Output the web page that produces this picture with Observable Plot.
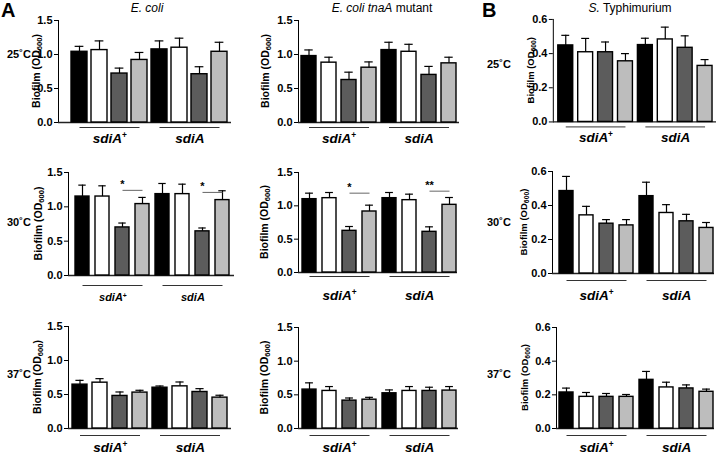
<!DOCTYPE html>
<html><head><meta charset="utf-8">
<script src="https://cdn.jsdelivr.net/npm/d3@7"></script>
<script src="https://cdn.jsdelivr.net/npm/@observablehq/plot@0.6"></script>
<style>
body{margin:0;background:#fff;}
#fig{position:relative;width:720px;height:457px;overflow:hidden;font-family:'Liberation Sans',Arial,sans-serif;background:#fff;}
.abs{position:absolute;white-space:nowrap;line-height:1;color:#000;}
.panel{position:absolute;}
</style></head><body><div id="fig"></div>
<script>
// ---------- data ----------
const groups = ["sdiA+", "sdiA"];
const conditions = ["c1", "c2", "c3", "c4"];
const temps = ["25˚C", "30˚C", "37˚C"];
const panelLetters = ["A", "B"];
const organismTitles = ["<i>E. coli</i>", "<i>E. coli tnaA</i> mutant", "<i>S.</i> Typhimurium"];
const ecoliTicks = [0, 0.5, 1.0, 1.5];
const styphTicks = [0, 0.2, 0.4, 0.6];

const ecoli25 = [1.04, 1.065, 0.72, 0.92, 1.075, 1.10, 0.71, 1.04];
const ecoli25Err = [0.08, 0.135, 0.08, 0.11, 0.125, 0.14, 0.11, 0.14];
const tnaA25 = [0.977, 0.88, 0.625, 0.806, 1.065, 1.04, 0.70, 0.87];
const tnaA25Err = [0.09, 0.08, 0.115, 0.085, 0.115, 0.11, 0.125, 0.09];
const styph25 = [0.448, 0.408, 0.408, 0.355, 0.45, 0.483, 0.434, 0.328];
const styph25Err = [0.059, 0.081, 0.06, 0.045, 0.04, 0.072, 0.07, 0.037];

const ecoli30 = [1.15, 1.15, 0.70, 1.04, 1.185, 1.185, 0.643, 1.098];
const ecoli30Err = [0.166, 0.156, 0.064, 0.097, 0.155, 0.145, 0.049, 0.136];
const tnaA30 = [1.10, 1.115, 0.625, 0.915, 1.115, 1.085, 0.61, 1.015];
const tnaA30Err = [0.09, 0.085, 0.065, 0.095, 0.085, 0.09, 0.075, 0.11];
const styph30 = [0.485, 0.342, 0.293, 0.283, 0.455, 0.356, 0.307, 0.268];
const styph30Err = [0.086, 0.053, 0.024, 0.034, 0.082, 0.049, 0.041, 0.032];

const ecoli37 = [0.645, 0.674, 0.479, 0.528, 0.60, 0.62, 0.537, 0.454];
const ecoli37Err = [0.063, 0.059, 0.058, 0.034, 0.025, 0.064, 0.049, 0.035];
const tnaA37 = [0.578, 0.558, 0.414, 0.428, 0.523, 0.558, 0.558, 0.563];
const tnaA37Err = [0.10, 0.065, 0.039, 0.035, 0.05, 0.065, 0.055, 0.06];
const styph37 = [0.214, 0.188, 0.188, 0.188, 0.289, 0.244, 0.238, 0.218];
const styph37Err = [0.026, 0.026, 0.02, 0.014, 0.05, 0.031, 0.021, 0.016];

// significance brackets: [fromBar, toBar, y, label]
const ecoli30Sig = [[2, 3, 1.24, "*"], [6, 7, 1.21, "*"]];
const tnaA30Sig = [[2, 3, 1.19, "*"], [6, 7, 1.22, "**"]];

// ---------- styles / layout ----------
const barFills = ["#000000", "#ffffff", "#5c5c5c", "#bdbdbd"];
const layouts = [
  {svgLeft: 20, axisX: 58, baseRight: 231, yTop: 20, yBot: 122, firstLeft: 68, lastRight: 230, bw: 16.5, lineY: 127, labelY: 138, labelSize: 13.5, yLabelX: 37, yLabelSize: 10.5},
  {svgLeft: 250, axisX: 298, baseRight: 459, yTop: 20, yBot: 122, firstLeft: 300, lastRight: 457, bw: 15, lineY: 127, labelY: 138, labelSize: 13.5, yLabelX: 266, yLabelSize: 10.5},
  {svgLeft: 515, axisX: 553, baseRight: 717, yTop: 19, yBot: 122, firstLeft: 555, lastRight: 716, bw: 16, lineY: 127, labelY: 138, labelSize: 13.5, yLabelX: 531, yLabelSize: 9.5},
  {svgLeft: 20, axisX: 68, baseRight: 234, yTop: 172, yBot: 275, firstLeft: 72, lastRight: 233, bw: 15, lineY: 285, labelY: 297, labelSize: 11, yLabelX: 39, yLabelSize: 10.5},
  {svgLeft: 250, axisX: 298, baseRight: 457, yTop: 172, yBot: 272, firstLeft: 301, lastRight: 456, bw: 14, lineY: 276, labelY: 295, labelSize: 13.5, yLabelX: 265, yLabelSize: 10.5},
  {svgLeft: 500, axisX: 552, baseRight: 714, yTop: 171, yBot: 273, firstLeft: 559, lastRight: 713, bw: 14, lineY: 280, labelY: 295, labelSize: 13.5, yLabelX: 524, yLabelSize: 9.5},
  {svgLeft: 20, axisX: 68, baseRight: 231, yTop: 326, yBot: 428, firstLeft: 70, lastRight: 230, bw: 15.5, lineY: 435, labelY: 447, labelSize: 13.5, yLabelX: 38, yLabelSize: 10.5},
  {svgLeft: 250, axisX: 298, baseRight: 458, yTop: 327, yBot: 428, firstLeft: 301, lastRight: 457, bw: 14, lineY: 435, labelY: 447, labelSize: 13.5, yLabelX: 265, yLabelSize: 10.5},
  {svgLeft: 500, axisX: 556, baseRight: 714, yTop: 327, yBot: 428, firstLeft: 559, lastRight: 713, bw: 14, lineY: 435, labelY: 447, labelSize: 13.5, yLabelX: 525, yLabelSize: 9.5}
];

const panels = [
  {vals: ecoli25, errs: ecoli25Err, max: 1.5, ticks: ecoliTicks, sig: []},
  {vals: tnaA25, errs: tnaA25Err, max: 1.5, ticks: ecoliTicks, sig: []},
  {vals: styph25, errs: styph25Err, max: 0.6, ticks: styphTicks, sig: []},
  {vals: ecoli30, errs: ecoli30Err, max: 1.5, ticks: ecoliTicks, sig: ecoli30Sig},
  {vals: tnaA30, errs: tnaA30Err, max: 1.5, ticks: ecoliTicks, sig: tnaA30Sig},
  {vals: styph30, errs: styph30Err, max: 0.6, ticks: styphTicks, sig: []},
  {vals: ecoli37, errs: ecoli37Err, max: 1.5, ticks: ecoliTicks, sig: []},
  {vals: tnaA37, errs: tnaA37Err, max: 1.5, ticks: ecoliTicks, sig: []},
  {vals: styph37, errs: styph37Err, max: 0.6, ticks: styphTicks, sig: []}
];

const fig = document.getElementById("fig");
const keys = groups.flatMap(g => conditions.map(c => g + "|" + c));

function makePanel(P, L) {
  const rows = keys.map((k, i) => ({key: k, cond: conditions[i % 4], v: P.vals[i], e: P.errs[i]}));
  const groupRows = groups.map((g, gi) => ({label: g, first: keys[gi * 4], last: keys[gi * 4 + 3], mid: keys[gi * 4 + 1]}));
  const sigRows = P.sig.map(([a, b, y, label]) => ({from: keys[a], to: keys[b], y, label}));
  const svgTop = L.yTop - 10;
  const svgBottom = L.labelY + 10;
  const height = svgBottom - svgTop;
  const width = L.baseRight + 4 - L.svgLeft;
  const pitch = (L.lastRight - L.bw - L.firstLeft) / 7;
  const gap = pitch - L.bw;
  const pi = gap / pitch;
  const chart = Plot.plot({
    width, height,
    marginLeft: L.axisX - L.svgLeft,
    marginRight: width - (L.baseRight - L.svgLeft),
    marginTop: L.yTop - svgTop,
    marginBottom: svgBottom - L.yBot,
    x: {type: "band", domain: keys, range: [L.firstLeft - gap / 2 - L.svgLeft, L.lastRight + gap / 2 - L.svgLeft], paddingInner: pi, paddingOuter: pi / 2, axis: null},
    y: {domain: [0, P.max], ticks: P.ticks, tickFormat: d3.format(".1f"), tickSize: 4, tickPadding: 2, line: true, label: null},
    color: {domain: conditions, range: barFills},
    style: {fontFamily: "'Liberation Sans', Arial, sans-serif", fontSize: "11px", fontWeight: "bold", background: "transparent", overflow: "visible", color: "#000"},
    marks: [
      Plot.ruleY([0], {stroke: "#222", strokeWidth: 1.3}),
      Plot.barY(rows, {x: "key", y: "v", fill: "cond", stroke: "#000", strokeWidth: 1.4}),
      Plot.ruleX(rows, {x: "key", y1: "v", y2: d => d.v + d.e, stroke: "#000", strokeWidth: 1.2}),
      Plot.tickY(rows, {x: "key", y: d => d.v + d.e, insetLeft: L.bw * 0.22, insetRight: L.bw * 0.22, stroke: "#000", strokeWidth: 1.2}),
      Plot.link(groupRows, {x1: "first", x2: "last", y1: () => 0, y2: () => 0, dy: L.lineY - L.yBot, stroke: "#333", strokeWidth: 1}),
      Plot.text(groupRows, {x: "mid", y: () => 0, dx: pitch / 2, dy: L.labelY - L.yBot, text: "label", fontStyle: "italic", fontSize: L.labelSize, fill: "#000"}),
      Plot.link(sigRows, {x1: "from", x2: "to", y1: "y", y2: "y", stroke: "#666", strokeWidth: 1}),
      Plot.text(sigRows, {x: "from", y: "y", text: "label", dy: -6, fontSize: 11, fill: "#000"})
    ]
  });
  const svgEl = chart.tagName.toLowerCase() === "svg" ? chart : chart.querySelector("svg");
  const svg = d3.select(svgEl);
  // superscript "+" in the group label
  svg.selectAll("text").filter(function () { return this.textContent === groups[0]; })
    .each(function () {
      const el = d3.select(this);
      el.text(groups[0].replace("+", ""));
      el.append("tspan").attr("baseline-shift", "super").attr("font-size", L.labelSize * 0.62).attr("font-style", "normal").text("+");
    });
  // y-axis title with subscript
  const t = svg.append("text")
    .attr("transform", `translate(${L.yLabelX - L.svgLeft},${(L.yTop + L.yBot) / 2 - svgTop}) rotate(-90)`)
    .attr("text-anchor", "middle").attr("dominant-baseline", "middle")
    .attr("font-weight", "bold").attr("font-size", L.yLabelSize).attr("fill", "#000");
  t.append("tspan").text("Biofilm (OD");
  t.append("tspan").attr("font-size", L.yLabelSize * 0.72).attr("dy", L.yLabelSize * 0.3).text("600");
  t.append("tspan").attr("dy", -L.yLabelSize * 0.3).text(")");
  const div = document.createElement("div");
  div.className = "panel";
  div.style.left = L.svgLeft + "px";
  div.style.top = svgTop + "px";
  div.appendChild(chart);
  fig.appendChild(div);
}

panels.forEach((P, i) => makePanel(P, layouts[i]));

// ---------- HTML text ----------
function addText(html, left, top, css) {
  const d = document.createElement("div");
  d.className = "abs";
  d.innerHTML = html;
  d.style.left = left + "px";
  d.style.top = top + "px";
  Object.assign(d.style, css || {});
  fig.appendChild(d);
  return d;
}
addText(panelLetters[0], 1, 0, {fontSize: "20px", fontWeight: "bold"});
addText(panelLetters[1], 482, 0, {fontSize: "20px", fontWeight: "bold"});
const titleCenters = [147, 382, 630];
organismTitles.forEach((h, i) => {
  addText(h, titleCenters[i], 2, {fontSize: "12px", transform: "translateX(-50%)"});
});
const tempYs = [55, 223, 375];
const tempYsB = [65, 223, 375];
temps.forEach((tx, i) => {
  addText(tx, 7, tempYs[i] - 6, {fontSize: "11px", fontWeight: "bold"});
  addText(tx, 487, tempYsB[i] - 6, {fontSize: "11px", fontWeight: "bold"});
});
</script>
</body></html>
